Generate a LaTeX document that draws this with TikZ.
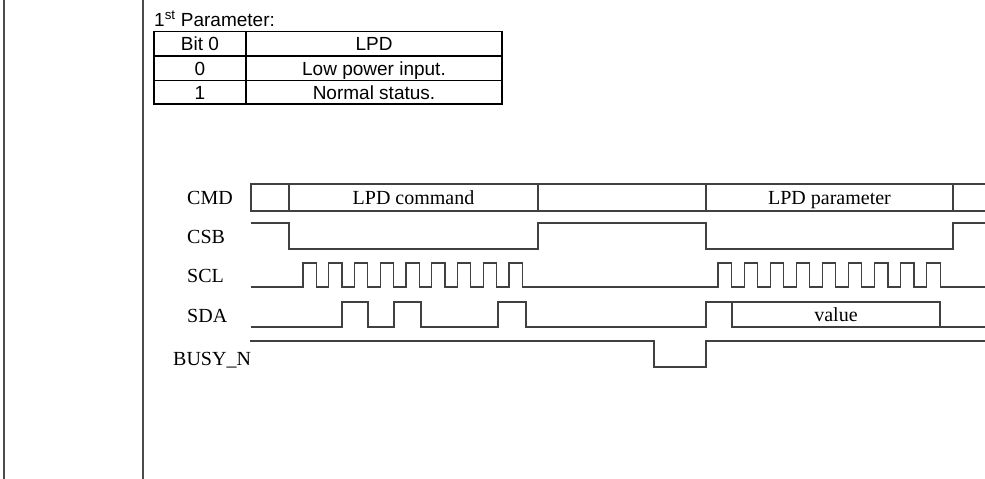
\documentclass[tikz,border=0pt]{standalone}
\usepackage{fontspec}
\setmainfont{Liberation Serif}
\setsansfont{Liberation Sans}
\usetikzlibrary{positioning}
\tikzset{
    %Define style for signal lines
    sig/.style={
           draw=black!75,
           line width=1.2pt},
    %Define style for signal names
    signame/.style={
           inner sep=0pt,
           anchor=base west,
           font=\fontsize{20}{24}\selectfont},
    %Define style for bus labels
    buslbl/.style={
           inner sep=0pt,
           anchor=base,
           font=\fontsize{20}{24}\selectfont},
    % Define style for table text
    tabtxt/.style={
           inner sep=0pt,
           anchor=base,
           font=\sffamily\fontsize{19}{23}\selectfont},
    % Define style for table rules
    rule/.style={
           draw=black,
           line width=1.4pt}
}
\begin{document}
\begin{tikzpicture}[x=1pt, y=-1pt]
     \useasboundingbox (0,0) rectangle (985,479);
     % page margin lines
     \draw[draw=black!70, line width=2pt] (4,0) -- (4,479);
     \draw[draw=black!70, line width=2pt] (143,0) -- (143,479);
     % parameter table
     \node[tabtxt, anchor=base west] (partitle) at (154,26) {1\textsuperscript{st} Parameter:};
     \draw[rule] (154,31.5) rectangle (502,104);
     \draw[rule] (246,31.5) -- (246,104);
     \foreach \y in {56,80.5}
       \draw[rule] (154,\y) -- (502,\y);
     \node[tabtxt] (bithead) at (200,50.5) {Bit 0};
     \node[tabtxt] (lpdhead) at (374,50.5) {LPD};
     \node[tabtxt] (bitzero) at (200,75) {0};
     \node[tabtxt] (lpdzero) at (374,75) {Low power input.};
     \node[tabtxt] (bitone) at (200,99) {1};
     \node[tabtxt] (lpdone) at (374,99) {Normal status.};
     % signal names
     \node[signame] (cmd) at (187,204.5) {CMD};
     \node[signame] (csb) at (187,243.5) {CSB};
     \node[signame] (scl) at (187,282.5) {SCL};
     \node[signame] (sda) at (187,322.5) {SDA};
     \node[signame] (busy) at (173,365.5) {BUSY\_N};
     % CMD bus
     \draw[sig] (985,184) -| (251,211) -- (985,211);
     \foreach \x in {289,538,706,953}
       \draw[sig] (\x,184) -- (\x,211);
     \node[buslbl] (lpdcmd) at (413.5,204) {LPD command};
     \node[buslbl] (lpdpar) at (829.5,204) {LPD parameter};
     % CSB
     \draw[sig] (251,223) -| (289,249) -| (538,223) -| (706,249) -| (953,223) -- (985,223);
     % SCL
     \draw[sig] (251,287)
       foreach \k in {0,...,8} { -- ({303+25.75*\k},287) -- ++(0,-24) -- ++(13.3,0) -- ++(0,24) }
       -- (718,287)
       foreach \k in {0,...,8} { -- ({718+26.1*\k},287) -- ++(0,-24) -- ++(13.3,0) -- ++(0,24) }
       -- (985,287);
     % SDA
     \draw[sig] (251,327) -| (342,302) -| (368,327) -| (394,302) -| (421,327)
       -| (498,302) -| (526,327) -| (706,302) -| (940,327);
     \draw[sig] (732,302) |- (985,327);
     \node[buslbl] (value) at (836,321) {value};
     % BUSY_N
     \draw[sig] (250,341) -| (654,367) -| (706,341) -- (985,341);
\end{tikzpicture}
\end{document}
